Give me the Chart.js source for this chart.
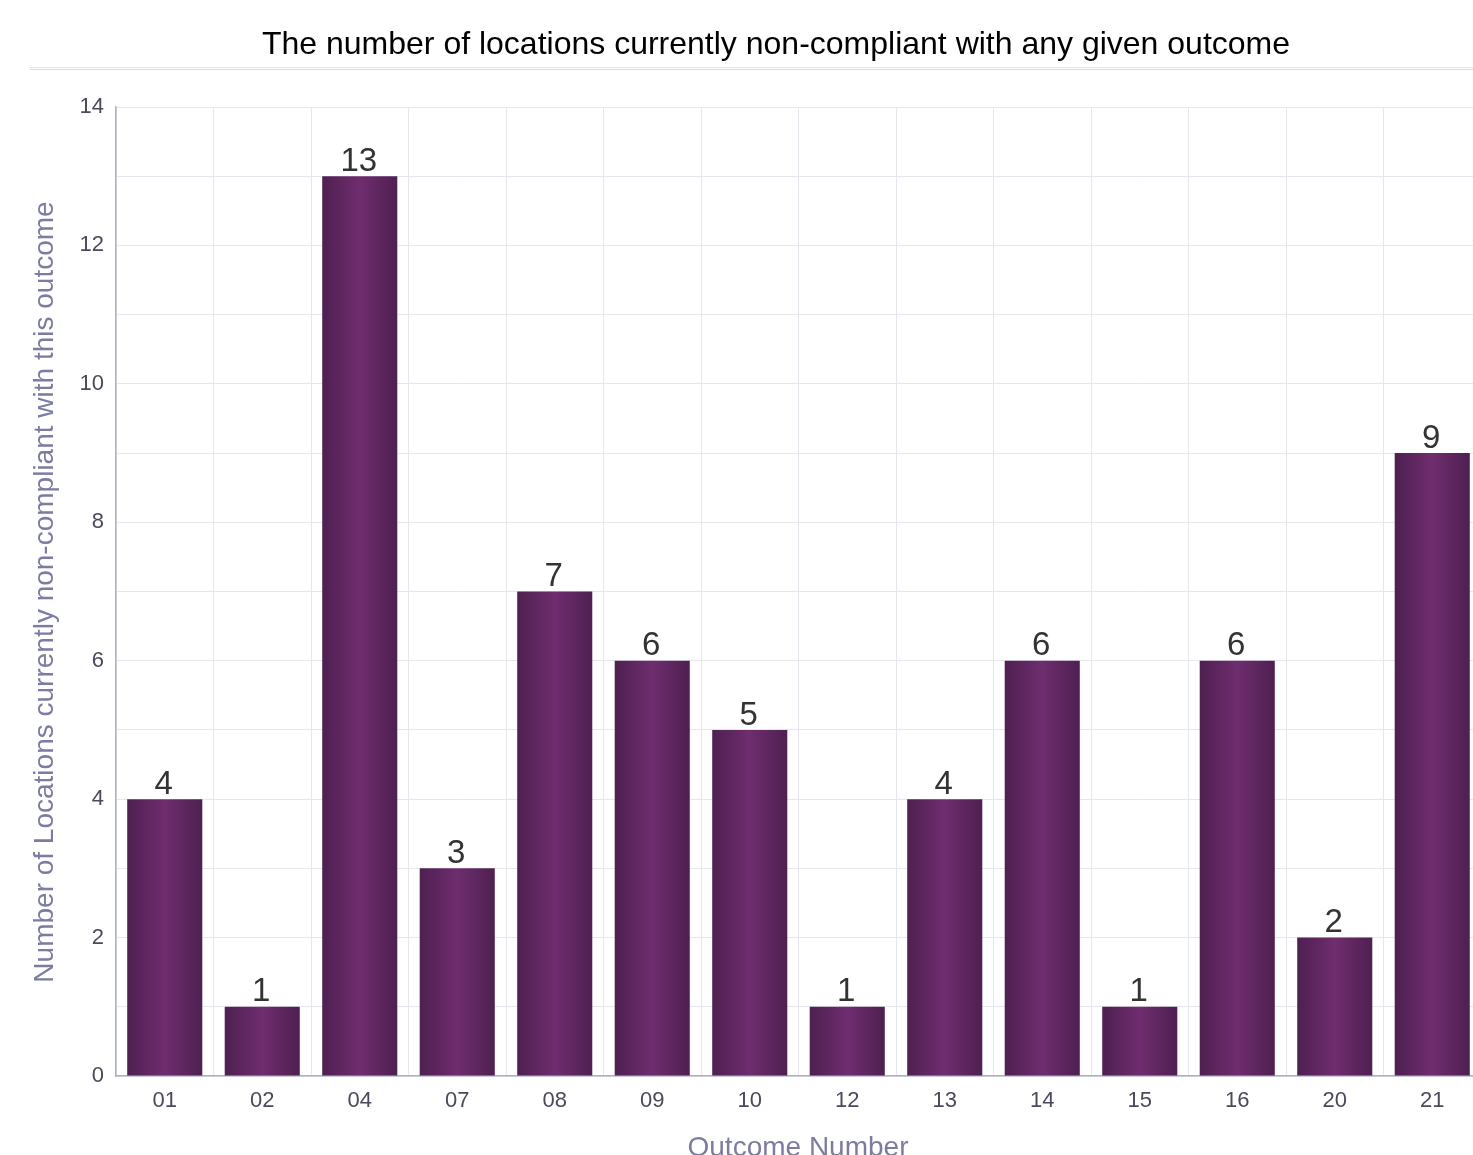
<!DOCTYPE html>
<html>
<head>
<meta charset="utf-8">
<script src="https://cdn.jsdelivr.net/npm/chart.js@4/dist/chart.umd.min.js"></script>
<style>
  html, body { margin: 0; padding: 0; background: #fff; overflow: hidden; }
  #wrap { width: 1473px; height: 1155px; position: relative; overflow: hidden; }
  #inner { width: 1481px; height: 1155px; position: relative; }
</style>
</head>
<body>
<div id="wrap"><div id="inner"><canvas id="chart"></canvas></div></div>
<script>
/* ================= DATA ================= */

const outcomes = ["01", "02", "04", "07", "08", "09", "10", "12", "13", "14", "15", "16", "20", "21"];
const counts = [4, 1, 13, 3, 7, 6, 5, 1, 4, 6, 1, 6, 2, 9];
const yTicks = [0, 2, 4, 6, 8, 10, 12, 14];

const titleText = "The number of locations currently non-compliant with any given outcome";
const yTitle = "Number of Locations currently non-compliant with this outcome";
const xTitle = "Outcome Number";

const FONT = "'Liberation Sans', Arial, sans-serif";
const BAR_PCT = 0.77;

/* ================= BAR GRADIENT ================= */

function barGradient(context) {
  const chart = context.chart;
  const xs = chart.scales.x;
  if (!xs || context.dataIndex === undefined) return "#62275f";
  const cx = xs.getPixelForValue(context.dataIndex);
  const half = (xs.width / outcomes.length) * BAR_PCT / 2;
  if (!isFinite(cx) || !isFinite(half) || half <= 0) return "#62275f";
  const g = chart.ctx.createLinearGradient(cx - half, 0, cx + half, 0);
  g.addColorStop(0, "#4e2050");
  g.addColorStop(0.5, "#6f2d6f");
  g.addColorStop(1, "#4e2050");
  return g;
}

/* ================= EXTRA DRAWING ================= */

const decorations = {
  id: "decorations",
  afterDraw(chart) {
    const ctx = chart.ctx;
    ctx.save();

    // title + double rule under it
    ctx.fillStyle = "#000";
    ctx.font = "32px " + FONT;
    ctx.textAlign = "center";
    ctx.textBaseline = "middle";
    ctx.fillText(titleText, 776, 45);
    ctx.fillStyle = "#e6e6ea";
    ctx.fillRect(30, 67, 1443, 1);
    ctx.fillStyle = "#d9d9de";
    ctx.fillRect(30, 69, 1443, 1);

    // axis titles
    ctx.fillStyle = "#7c7ca2";
    ctx.font = "28px " + FONT;
    ctx.fillText(xTitle, 798, 1148);
    ctx.translate(45, 592);
    ctx.rotate(-Math.PI / 2);
    ctx.fillText(yTitle, 0, 0);
    ctx.restore();

    // value labels above bars
    ctx.save();
    ctx.fillStyle = "#333";
    ctx.font = "33px " + FONT;
    ctx.textAlign = "center";
    ctx.textBaseline = "bottom";
    chart.getDatasetMeta(0).data.forEach((bar, i) => {
      ctx.fillText(String(counts[i]), bar.x - 1, bar.y + 2);
    });
    ctx.restore();
  }
};

/* ================= CHART ================= */

new Chart(document.getElementById("chart"), {
  type: "bar",
  data: {
    labels: outcomes,
    datasets: [{
      data: counts,
      backgroundColor: barGradient,
      borderWidth: 0,
      categoryPercentage: 1,
      barPercentage: BAR_PCT
    }]
  },
  options: {
    responsive: true,
    maintainAspectRatio: false,
    animation: false,
    layout: { padding: { top: 107, right: 0, bottom: 0, left: 0 } },
    plugins: {
      legend: { display: false },
      tooltip: { enabled: false }
    },
    scales: {
      x: {
        afterFit: s => { s.height = 79; },
        grid: { color: "#e6e6ee", drawTicks: false, offset: true },
        border: { color: "#aeaec8", width: 1.5 },
        ticks: {
          color: "#4a4a5c",
          font: { family: FONT, size: 22 },
          padding: 12
        }
      },
      y: {
        min: yTicks[0],
        max: yTicks[yTicks.length - 1],
        afterFit: s => { s.width = 116; },
        grid: { color: "#e6e6ee", drawTicks: false },
        border: { color: "#aeaec8", width: 1.5 },
        ticks: {
          stepSize: 1,
          autoSkip: false,
          color: "#4a4a5c",
          font: { family: FONT, size: 22 },
          padding: 12,
          callback: v => (yTicks.includes(v) ? v : "")
        }
      }
    }
  },
  plugins: [decorations]
});
</script>
</body>
</html>
